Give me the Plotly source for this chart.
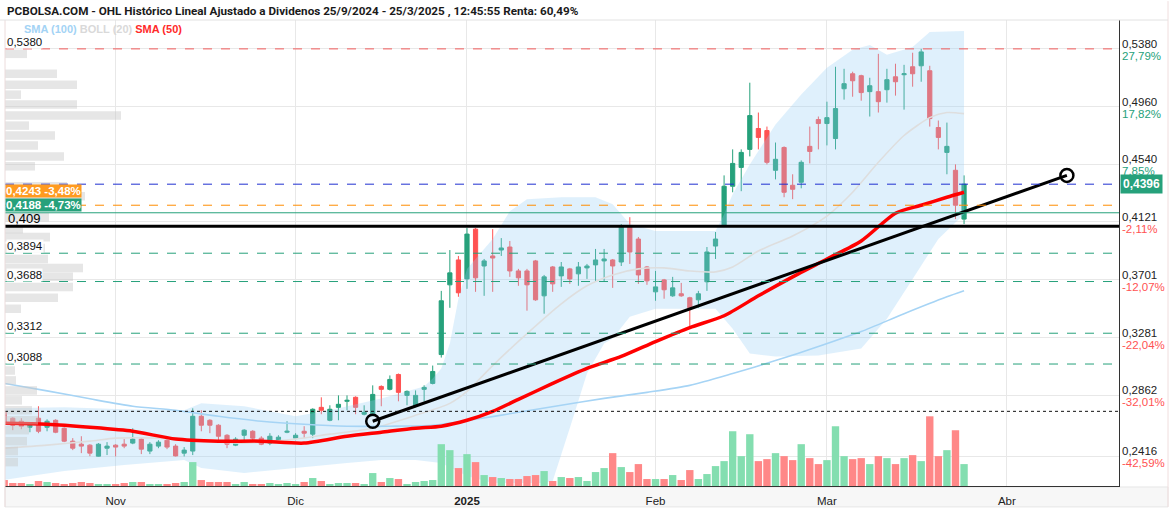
import plotly.graph_objects as go

# ---------------- data (x = trading-day index, 0 = 15/10/2024) ----------------
month_tick_idx = [13, 34, 54, 76, 96, 117]
month_tick_text = ["Nov", "Dic", "<b>2025</b>", "Feb", "Mar", "Abr"]

opens = [0.2737,0.2694,0.2672,0.2628,0.2694,0.2628,0.2679,0.2621,0.2527,0.2505,
         0.2498,0.2418,0.2476,0.2498,0.2505,0.2513,0.2542,0.2455,0.2491,0.2534,
         0.2491,0.2440,0.2455,0.2708,0.2679,0.2643,0.2570,0.2498,0.2570,0.2599,
         0.2549,0.2513,0.2520,0.2592,0.2549,0.2599,0.2578,0.2773,0.2679,0.2773,
         0.2817,0.2846,0.2723,0.2723,0.2925,0.2904,0.3012,0.2860,0.2781,0.2904,
         0.2947,0.3157,0.3664,0.3845,0.3707,0.4069,0.3801,0.3874,0.3917,0.3939,
         0.3765,0.3765,0.3838,0.3584,0.3794,0.3729,0.3780,0.3744,0.3787,0.3809,
         0.3838,0.3845,0.3830,0.4084,0.3997,0.3794,0.3613,0.3700,0.3584,0.3599,
         0.3570,0.3555,0.3686,0.3946,0.4091,0.4381,0.4518,0.4649,0.4801,0.4786,
         0.4497,0.4663,0.4388,0.4410,0.4671,0.4866,0.4837,0.4728,0.5090,0.5199,
         0.5185,0.5069,0.5069,0.5083,0.5177,0.5192,0.5250,0.5257,0.5221,0.4808,
         0.4627,0.4497,0.4142]
highs = [0.2744,0.2701,0.2694,0.2650,0.2781,0.2686,0.2686,0.2628,0.2549,0.2563,
         0.2505,0.2513,0.2520,0.2505,0.2542,0.2621,0.2549,0.2520,0.2534,0.2542,
         0.2505,0.2484,0.2766,0.2752,0.2686,0.2650,0.2578,0.2556,0.2614,0.2607,
         0.2563,0.2585,0.2570,0.2672,0.2585,0.2636,0.2766,0.2846,0.2788,0.2860,
         0.2860,0.2853,0.2788,0.2933,0.2933,0.3005,0.3019,0.2896,0.2896,0.2933,
         0.3077,0.3620,0.3917,0.3874,0.4077,0.4077,0.3852,0.4069,0.4004,0.3983,
         0.3780,0.3780,0.3845,0.3736,0.3801,0.3830,0.3787,0.3830,0.3816,0.3925,
         0.3925,0.3852,0.4106,0.4156,0.4012,0.3801,0.3765,0.3707,0.3722,0.3678,
         0.3577,0.3620,0.3939,0.4048,0.4460,0.4649,0.4649,0.5134,0.4917,0.4815,
         0.4699,0.4671,0.4468,0.4569,0.4815,0.4888,0.4996,0.5250,0.5235,0.5214,
         0.5192,0.5170,0.5344,0.5235,0.5272,0.5264,0.5352,0.5380,0.5257,0.4859,
         0.4844,0.4540,0.4460]
lows = [0.2599,0.2607,0.2614,0.2592,0.2585,0.2599,0.2585,0.2520,0.2462,0.2440,
        0.2418,0.2416,0.2426,0.2416,0.2476,0.2505,0.2433,0.2433,0.2476,0.2469,
        0.2416,0.2416,0.2426,0.2599,0.2585,0.2534,0.2476,0.2491,0.2527,0.2527,
        0.2498,0.2498,0.2513,0.2585,0.2534,0.2549,0.2549,0.2723,0.2672,0.2679,
        0.2752,0.2723,0.2715,0.2708,0.2781,0.2896,0.2817,0.2788,0.2773,0.2817,
        0.2940,0.3135,0.3497,0.3577,0.3635,0.3613,0.3584,0.3613,0.3874,0.3722,
        0.3657,0.3476,0.3548,0.3454,0.3613,0.3649,0.3671,0.3657,0.3707,0.3686,
        0.3686,0.3642,0.3801,0.3816,0.3671,0.3664,0.3548,0.3563,0.3577,0.3577,
        0.3360,0.3497,0.3620,0.3852,0.4084,0.4337,0.4345,0.4598,0.4649,0.4540,
        0.4431,0.4301,0.4287,0.4366,0.4547,0.4649,0.4678,0.4649,0.5011,0.5032,
        0.5003,0.4888,0.4917,0.4989,0.5040,0.4938,0.5105,0.5141,0.4815,0.4649,
        0.4468,0.4142,0.4106]
closes = [0.2665,0.2643,0.2636,0.2643,0.2599,0.2672,0.2592,0.2527,0.2476,0.2491,
          0.2440,0.2505,0.2491,0.2484,0.2491,0.2542,0.2469,0.2505,0.2520,0.2484,
          0.2420,0.2462,0.2708,0.2643,0.2643,0.2563,0.2505,0.2542,0.2607,0.2549,
          0.2505,0.2563,0.2556,0.2599,0.2570,0.2585,0.2759,0.2752,0.2759,0.2795,
          0.2824,0.2773,0.2737,0.2867,0.2904,0.2976,0.2882,0.2889,0.2860,0.2918,
          0.3034,0.3548,0.3751,0.3606,0.4033,0.3715,0.3838,0.3859,0.3932,0.3765,
          0.3715,0.3664,0.3555,0.3722,0.3671,0.3794,0.3707,0.3794,0.3801,0.3845,
          0.3852,0.3801,0.4084,0.3903,0.3736,0.3693,0.3649,0.3628,0.3642,0.3584,
          0.3497,0.3599,0.3903,0.3997,0.4381,0.4547,0.4627,0.4895,0.4736,0.4555,
          0.4577,0.4337,0.4359,0.4555,0.4634,0.4837,0.4880,0.4946,0.5127,0.5148,
          0.5062,0.5112,0.4996,0.5156,0.5141,0.5199,0.5199,0.5358,0.4873,0.4736,
          0.4671,0.4243,0.4396]
volume_m = [1.5,0.75,0.75,0.5,1.25,1.0,0.75,0.5,0.75,1.0,
            0.75,0.5,0.5,0.5,0.75,1.0,1.0,0.5,0.5,0.5,
            0.75,1.0,6.0,1.5,1.0,1.0,1.0,0.5,1.0,0.5,
            0.5,0.75,0.5,0.75,0.5,1.0,2.0,1.25,0.5,0.75,
            0.75,0.75,0.5,3.25,1.0,2.0,1.75,0.5,1.0,1.25,
            1.5,10.5,9.0,4.5,8.0,6.0,2.75,2.25,2.0,1.75,
            1.75,2.5,2.75,3.75,1.25,2.25,2.0,2.25,1.25,3.5,
            4.5,8.25,4.75,3.5,5.5,1.75,1.75,1.75,2.75,1.5,
            4.0,1.75,3.0,5.0,6.25,13.75,7.5,13.0,6.25,6.75,
            8.25,7.5,6.5,10.5,7.0,5.5,6.5,15.0,7.5,6.75,
            7.0,5.5,7.5,7.0,5.5,7.0,7.75,6.25,17.5,7.5,
            9.0,14.0,5.5]

# indicator readings (index, value)
sma50_idx = [0,5,10,15,20,25,30,35,40,44,48,51,54,57,60,64,68,72,76,80,84,88,92,96,100,104,107,110,112]
sma50_val = [0.2657,0.2650,0.2628,0.2599,0.2542,0.2527,0.2527,0.2513,0.2563,0.2592,0.2621,0.2636,0.2679,
             0.2744,0.2831,0.2947,0.3056,0.3143,0.3251,0.3353,0.3439,0.3584,0.3722,0.3852,0.3983,0.4185,
             0.4243,0.4301,0.4337]
sma100_idx = [0,5,10,15,20,25,30,35,40,45,50,55,60,65,70,75,80,85,90,95,100,105,110,112]
sma100_val = [0.2947,0.2893,0.2835,0.2781,0.2752,0.2708,0.2672,0.2650,0.2636,0.2636,0.2643,0.2686,0.2737,
              0.2788,0.2838,0.2882,0.2933,0.3019,0.3113,0.3215,0.3324,0.3454,0.3577,0.3621]
boll_mid_idx = [0,5,10,13,18,23,28,34,38,43,48,52,54,57,61,65,68,71,74,77,80,83,85,88,92,96,99,102,105,108,110,112]
boll_mid_val = [0.2476,0.2498,0.2527,0.2549,0.2549,0.2527,0.2513,0.2542,0.2578,0.2621,0.2715,0.2802,0.2889,
                0.3077,0.3309,0.3526,0.3657,0.3736,0.3780,0.3787,0.3765,0.3758,0.3794,0.3910,0.4019,0.4164,
                0.4337,0.4555,0.4750,0.4880,0.4917,0.4909]
boll_up_idx = [0,7,14,21,23,28,34,38,44,49,50,51,52,53,54,56,57,59,61,65,69,71,73,76,80,83,84,85,87,90,93,96,99,101,103,106,108,112]
boll_up_val = [0.2766,0.2773,0.2759,0.2752,0.2802,0.2781,0.2708,0.2752,0.2838,0.2925,0.2983,0.3056,0.3237,
               0.3563,0.3780,0.3925,0.3997,0.4200,0.4287,0.4301,0.4301,0.4250,0.4106,0.4055,0.4055,0.4055,
               0.4178,0.4323,0.4540,0.4830,0.5048,0.5243,0.5373,0.5409,0.5337,0.5394,0.5503,0.5510]
boll_low_idx = [0,7,14,21,23,28,34,40,44,48,51,54,57,60,63,64,66,68,70,71,73,76,80,83,85,87,90,95,100,103,106,109,112]
boll_low_val = [0.2245,0.2310,0.2353,0.2390,0.2332,0.2296,0.2332,0.2368,0.2390,0.2390,0.2368,0.2274,0.2223,
                0.2223,0.2223,0.2238,0.2622,0.3019,0.3237,0.3273,0.3432,0.3490,0.3490,0.3490,0.3345,0.3164,
                0.3142,0.3150,0.3201,0.3418,0.3707,0.3997,0.4178]

# volume profile (price level, relative volume)
profile_price = [0.5344,0.5199,0.5119,0.5047,0.4975,0.4895,0.4822,0.4750,0.4678,0.4598,0.4526,0.4381,
                 0.4309,0.4236,0.4156,0.4069,0.4011,0.3932,0.3852,0.3787,0.3722,0.3649,0.3570,0.3490,
                 0.3041,0.2969,0.2896,0.2824,0.2752,0.2679,0.2607,0.2527,0.2455,0.2375]
profile_vol = [11,26,36,8,36,58,12,25,16.5,29.5,15,31,40,30,22,9,22.5,20,21.5,39,34,34,26.5,8,
               5,5.5,16,8.5,13.5,16.5,12,11,6.5,6.5]

trend_idx = [43, 124]
trend_val = [0.2672, 0.4460]

level_max = 0.5380
last_price = 0.4396
prev_close = 0.4243
ref_price = 0.4188
support = 0.409
green_levels = [0.3894, 0.3688, 0.3312, 0.3088]
dotted_level = 0.2744

right_tick_vals = [0.5380, 0.4960, 0.4540, 0.4121, 0.3701, 0.3281, 0.2862, 0.2416]
right_tick_text = ["0,5380", "0,4960", "0,4540", "0,4121", "0,3701", "0,3281", "0,2862", "0,2416"]
right_pct_text = ["27,79%", "17,82%", "7,85%", "-2,11%", "-12,07%", "-22,04%", "-32,01%", "-42,59%"]

# ---------------- styling ----------------
GREEN = "#26a17b"
RED = "#ff5252"
W, H = 1173, 512
ML, MR, MT, MB = 5, 54, 20, 24
PW = W - ML - MR
PH = H - MT - MB
XR = [0.093, 130.08]
YR = [0.2201, 0.5590]


def px_x(X):
    return (X - ML) / PW


def px_y(Y):
    return (H - MB - Y) / PH


x = list(range(len(opens)))
fig = go.Figure()

# volume profile
fig.add_trace(go.Bar(x=profile_vol, y=profile_price, orientation="h", xaxis="x2", yaxis="y",
                     width=0.0062, marker=dict(color="rgba(200,200,200,0.45)", line=dict(width=0)),
                     hoverinfo="skip", showlegend=False))
# Bollinger band (closed polygon: upper edge then lower edge reversed)
band_x = boll_up_idx + boll_low_idx[::-1]
band_y = boll_up_val + boll_low_val[::-1]
fig.add_trace(go.Scatter(x=band_x, y=band_y, mode="lines", fill="toself",
                         fillcolor="rgba(150,205,245,0.30)", line=dict(width=0), showlegend=False,
                         hoverinfo="skip"))
fig.add_trace(go.Scatter(x=boll_mid_idx, y=boll_mid_val, mode="lines",
                         line=dict(color="#dedede", width=1.6, shape="spline", smoothing=0.7), showlegend=False))
fig.add_trace(go.Scatter(x=sma100_idx, y=sma100_val, mode="lines",
                         line=dict(color="#a6d4f5", width=1.6, shape="spline", smoothing=0.7), showlegend=False))
# volume
vol_colors = ["#84deb0" if c >= o else "#ff8888" for o, c in zip(opens, closes)]
fig.add_trace(go.Bar(x=x, y=volume_m, yaxis="y2", width=0.86,
                     marker=dict(color=vol_colors, line=dict(width=0)), showlegend=False, hoverinfo="skip"))
# candles
fig.add_trace(go.Candlestick(x=x, open=opens, high=highs, low=lows, close=closes, whiskerwidth=0,
                             increasing=dict(line=dict(color=GREEN, width=1), fillcolor=GREEN),
                             decreasing=dict(line=dict(color=RED, width=1), fillcolor=RED),
                             showlegend=False))
fig.add_trace(go.Scatter(x=sma50_idx, y=sma50_val, mode="lines",
                         line=dict(color="#ff0000", width=3.5, shape="spline", smoothing=0.7), showlegend=False))
fig.add_trace(go.Scatter(x=trend_idx, y=trend_val, mode="lines+markers",
                         line=dict(color="black", width=3),
                         marker=dict(symbol="circle-open", size=13, color="black", line=dict(width=2.5)),
                         showlegend=False))

shapes = []


def hline(v, color, width, dash):
    shapes.append(dict(type="line", xref="paper", x0=0, x1=1, yref="y", y0=v, y1=v,
                       line=dict(color=color, width=width, dash=dash), layer="above"))


hline(level_max, "#f25c5c", 1, "dash")
hline(last_price, "#1f2fd0", 1, "dash")
hline(prev_close, "#ff8c00", 1, "dash")
hline(ref_price, GREEN, 1, "solid")
for lv in green_levels:
    hline(lv, GREEN, 1, "dash")
hline(dotted_level, "#111111", 1, "dot")
hline(support, "#000000", 3.2, "solid")

# frame pieces
shapes.append(dict(type="rect", xref="paper", yref="paper", x0=0, x1=px_x(1168), y0=px_y(509), y1=px_y(489),
                   fillcolor="#f7f7f7", line=dict(color="#e6e6e6", width=1), layer="below"))
shapes.append(dict(type="line", xref="paper", yref="paper", x0=0, x1=0, y0=px_y(509), y1=px_y(20),
                   line=dict(color="#ecdcdc", width=1), layer="above"))
shapes.append(dict(type="line", xref="paper", yref="paper", x0=px_x(1168), x1=px_x(1168), y0=px_y(509),
                   y1=px_y(1), line=dict(color="#f0dede", width=1), layer="above"))
shapes.append(dict(type="line", xref="paper", yref="paper", x0=px_x(0), x1=px_x(1168), y0=px_y(20),
                   y1=px_y(20), line=dict(color="#e2e2e2", width=1), layer="above"))

ann = []
ann.append(dict(xref="paper", yref="paper", x=px_x(5), y=px_y(11), xanchor="left", yanchor="middle",
                text="PCBOLSA.COM - OHL Histórico Lineal Ajustado a Dividenos 25/9/2024 - 25/3/2025 , 12:45:55 Renta: 60,49%",
                showarrow=False, font=dict(family="Roboto", size=11.7, color="#1a1a1a", weight=700)))
ann.append(dict(xref="paper", yref="paper", x=px_x(22), y=px_y(29), xanchor="left", yanchor="middle",
                text="<b><span style='color:#a3d3f5'>SMA (100)</span> <span style='color:#d9d9d9'>BOLL (20)</span> "
                     "<span style='color:#ff2a2a'>SMA (50)</span></b>",
                showarrow=False, font=dict(family="Liberation Sans", size=11)))
for v, t, p in zip(right_tick_vals, right_tick_text, right_pct_text):
    ann.append(dict(xref="paper", yref="y", x=1, y=v, xanchor="left", yanchor="bottom", xshift=1, yshift=-3,
                    text=t, showarrow=False, font=dict(family="Liberation Sans", size=11.5, color="#222")))
    ann.append(dict(xref="paper", yref="y", x=1, y=v, xanchor="left", yanchor="top", xshift=1, yshift=1,
                    text=p, showarrow=False,
                    font=dict(family="Liberation Sans", size=11.5, color=RED if p.startswith("-") else GREEN)))
ann.append(dict(xref="paper", yref="y", x=1, y=last_price, xanchor="left", yanchor="middle", xshift=1,
                text="<b>0,4396</b>", showarrow=False, bgcolor=GREEN, borderpad=2,
                font=dict(family="Liberation Sans", size=12, color="white")))
# left labels
for v, t in zip([level_max] + green_levels, ["0,5380", "0,3894", "0,3688", "0,3312", "0,3088"]):
    ann.append(dict(xref="paper", yref="y", x=px_x(6), y=v, xanchor="left", yanchor="bottom", yshift=0,
                    text=t, showarrow=False, bgcolor="rgba(255,255,255,0.9)", borderpad=0,
                    font=dict(family="Liberation Sans", size=11.5, color="#111")))
ann.append(dict(xref="paper", yref="y", x=px_x(6), y=support, xanchor="left", yanchor="bottom", yshift=-2,
                text="0,409", showarrow=False, font=dict(family="Liberation Sans", size=13, color="#000")))
ann.append(dict(xref="paper", yref="y", x=px_x(5), y=ref_price, xanchor="left", yanchor="bottom", yshift=15,
                text="<b>0,4243 -3,48%</b>", showarrow=False, bgcolor="#ff9a1f", borderpad=0,
                font=dict(family="Liberation Sans", size=11.5, color="white")))
ann.append(dict(xref="paper", yref="y", x=px_x(5), y=ref_price, xanchor="left", yanchor="bottom", yshift=1,
                text="<b>0,4188 -4,73%</b>", showarrow=False, bgcolor=GREEN, borderpad=0,
                font=dict(family="Liberation Sans", size=11.5, color="white")))

fig.update_layout(
    width=W, height=H, margin=dict(l=ML, r=MR, t=MT, b=MB, pad=0),
    paper_bgcolor="white", plot_bgcolor="white", barmode="overlay", showlegend=False,
    xaxis=dict(range=XR, tickvals=month_tick_idx, ticktext=month_tick_text, showgrid=True,
               gridcolor="#e8e8e8", gridwidth=1, zeroline=False, showline=True, linecolor="#333",
               linewidth=1, ticks="outside", ticklen=4, tickcolor="rgba(0,0,0,0)",
               tickfont=dict(family="Liberation Sans", size=11.5, color="#222"),
               rangeslider=dict(visible=False), fixedrange=True),
    xaxis2=dict(overlaying="x", range=[0, 557], visible=False, anchor="y"),
    yaxis=dict(range=YR, side="right", tickvals=right_tick_vals, showticklabels=False, showgrid=True,
               gridcolor="#e8e8e8", zeroline=False, showline=True, linecolor="#333", linewidth=1, ticks=""),
    yaxis2=dict(overlaying="y", range=[0, 117], visible=False),
    shapes=shapes, annotations=ann,
)

fig.write_html("out.html")
